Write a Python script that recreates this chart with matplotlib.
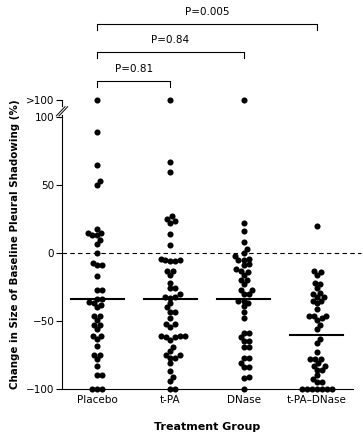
import numpy as np
import matplotlib
matplotlib.use("Agg")
import matplotlib.pyplot as plt

# ---------------------------
# Data
# ---------------------------
groups = ["Placebo", "t-PA", "DNase", "t-PA\u2013DNase"]

placebo = [89, 65, 53, 50, 18, 15, 15, 13, 13, 10, 7, 0, -7, -9, -9, -17,
           -27, -27, -34, -34, -36, -37, -38, -40, -46, -46, -49, -53, -53,
           -56, -61, -61, -63, -68, -75, -75, -78, -83, -90, -90,
           -100, -100, -100]
t_pa = [67, 60, 27, 25, 24, 22, 14, 6, -4, -5, -5, -6, -6, -13, -13, -16,
        -22, -26, -26, -30, -32, -32, -33, -37, -40, -43, -43, -48, -52, -52,
        -54, -61, -61, -61, -62, -62, -64, -69, -72, -75, -75, -77, -77, -81,
        -87, -91, -94, -100, -100]
dnase = [22, 16, 8, 3, 0, -2, -4, -5, -5, -8, -9, -12, -13, -14, -16, -20,
         -20, -23, -27, -27, -30, -30, -35, -35, -37, -39, -43, -48, -59, -59,
         -62, -65, -65, -69, -69, -77, -77, -81, -84, -84, -91, -92, -100]
tpa_dnase = [20, -13, -14, -16, -22, -23, -26, -29, -30, -32, -32, -35, -35,
             -37, -41, -46, -46, -46, -48, -49, -53, -56, -63, -66, -73, -78,
             -78, -78, -81, -83, -83, -86, -86, -90, -93, -95, -95,
             -100, -100, -100, -100, -100, -100, -100]

over_100 = [1, 1, 1, 0]          # patients with change > 100%
medians = [-34, -33.5, -33.5, -60]

comparisons = [(0, 1, "P=0.81"), (0, 2, "P=0.84"), (0, 3, "P=0.005")]

series = [placebo, t_pa, dnase, tpa_dnase]

# ---------------------------
# Layout
# ---------------------------
W, H = 363, 438
fig = plt.figure(figsize=(W / 100, H / 100), dpi=100)
ax_l, ax_b, ax_w, ax_h = 62, 49, 290.7, 289.4
ax = fig.add_axes([ax_l / W, ax_b / H, ax_w / W, ax_h / H])

XMIN, XMAX = -0.48, 3.49
YMIN, YMAX = -100, 113
OVER_POS = 112.5
ax.set_xlim(XMIN, XMAX)
ax.set_ylim(YMIN, YMAX)

px_x = ax_w / (XMAX - XMIN)
px_y = ax_h / (YMAX - YMIN)


def swarm(vals, diam):
    """simple beeswarm offsets (pixels) for values"""
    vals = np.asarray(vals, dtype=float)
    xs = np.zeros(len(vals))
    placed = []
    for i in np.argsort(vals):
        y = vals[i] * px_y
        cands = [0.0]
        for px, py in placed:
            dy = y - py
            if abs(dy) < diam:
                dx = np.sqrt(diam ** 2 - dy ** 2)
                cands += [px + dx, px - dx]
        cands.sort(key=abs)
        for c in cands:
            if all((c - px) ** 2 + (y - py) ** 2 >= diam ** 2 - 1e-6
                   for px, py in placed):
                xs[i] = c
                break
        placed.append((xs[i], y))
    return xs


for i, vals in enumerate(series):
    v = list(vals) + [OVER_POS] * over_100[i]
    off = swarm(v, 5.1) / px_x
    ax.plot(i + off, v, 'o', color='black', markersize=4.4,
            markeredgewidth=0, clip_on=False, zorder=3)
    ax.plot([i - 0.36, i + 0.36], [medians[i]] * 2, color='black', lw=1.5,
            zorder=4)

# zero reference line
ax.plot([XMIN, 3.6], [0, 0], color='black', lw=0.8, dashes=(4, 3),
        clip_on=False, zorder=1)

# axes styling
for s in ['top', 'right', 'left']:
    ax.spines[s].set_visible(False)
ax.spines['bottom'].set_linewidth(0.8)

ytr = ax.get_yaxis_transform()
ax.plot([0, 0], [-100, 101.5], color='black', lw=0.8, transform=ytr,
        clip_on=False)
ax.plot([0, 0], [108.5, OVER_POS], color='black', lw=0.8, transform=ytr,
        clip_on=False)
for dx in (0, 2.7):
    ax.plot([(-5.7 + dx) / ax_w, (3 + dx) / ax_w], [101, 107.8],
            color='black', lw=0.7, transform=ytr, clip_on=False)

ax.set_yticks([-100, -50, 0, 50, 100, OVER_POS])
ax.set_yticklabels(["\u2212100", "\u221250", "0", "50", "100", ">100"])
ax.tick_params(axis='y', length=4, width=0.8, pad=1.5, labelsize=7.5)
ax.set_xticks(range(len(groups)))
ax.set_xticklabels(groups)
ax.tick_params(axis='x', length=0, pad=4.5, labelsize=7.5)

ax.set_ylabel("Change in Size of Baseline Pleural Shadowing (%)",
              fontsize=7.4, fontweight='bold')
ax.yaxis.set_label_coords(-42 / ax_w, 0.5)
ax.set_xlabel("Treatment Group", fontsize=8, fontweight='bold')
ax.xaxis.set_label_coords(0.5, -33 / ax_h)

# comparison brackets
for k, (a, b, txt) in enumerate(comparisons):
    yb = 127 + 21 * k
    ax.plot([a, a, b, b], [yb - 4.5, yb, yb, yb - 4.5], color='black',
            lw=0.8, clip_on=False)
    ax.text((a + b) / 2, yb + 8.5, txt, ha='center', va='center',
            fontsize=7.5)

fig.savefig("out.png", dpi=100)
